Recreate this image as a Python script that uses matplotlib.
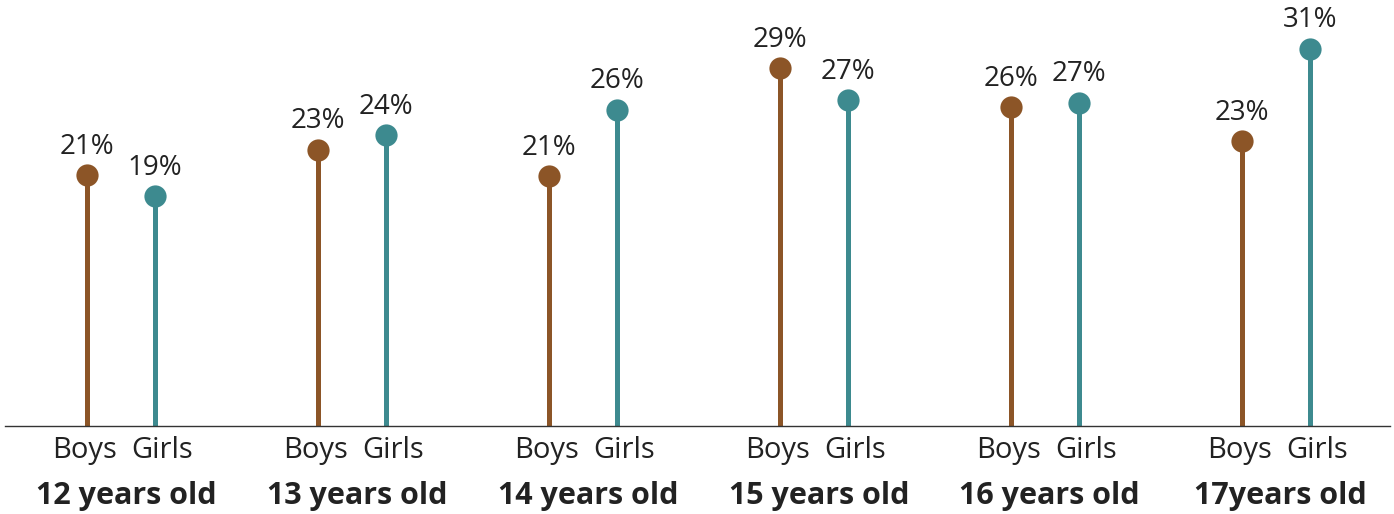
import matplotlib
matplotlib.use("Agg")
import matplotlib.pyplot as plt
import numpy as np

groups = ["12 years old", "13 years old", "14 years old", "15 years old", "16 years old", "17years old"]
boys = [20.6, 22.7, 20.55, 29.4, 26.2, 23.4]
girls = [18.9, 23.9, 26.0, 26.8, 26.6, 31.0]
sub_labels = ["Boys", "Girls"]

BROWN = "#8c5527"
TEAL = "#3d8a8f"
TXT = "#222222"
FONT = ["Open Sans", "DejaVu Sans"]

W, H = 1394, 514
fig = plt.figure(figsize=(W / 100, H / 100), dpi=100)
ax = fig.add_axes([5 / W, (H - 426) / H, 1385 / W, 426 / H])
ax.set_xlim(-0.502, 5.494)
ax.set_ylim(0, 35.03)

off = 0.147
x = np.arange(len(groups))
for xs, vals, col in [(x - off, boys, BROWN), (x + off, girls, TEAL)]:
    ax.vlines(xs, 0, vals, color=col, linewidth=3.6, zorder=2)
    ax.scatter(xs, vals, s=256, color=col, zorder=3, linewidths=0, marker="o")
    for xi, v in zip(xs, vals):
        ax.annotate(f"{v:.0f}%", (xi, v), xytext=(0, 15.5), textcoords="offset points",
                    ha="center", va="baseline", fontsize=20, color=TXT, family=FONT)

for s in ["top", "right", "left"]:
    ax.spines[s].set_visible(False)
ax.spines["bottom"].set_color("#333333")
ax.spines["bottom"].set_linewidth(1.0)
ax.set_xticks([])
ax.set_yticks([])

for i, g in enumerate(groups):
    ax.annotate(sub_labels[0], (i - off, 0), xytext=(-2, -23), textcoords="offset points",
                ha="center", va="baseline", fontsize=21, color=TXT, family=FONT,
                annotation_clip=False)
    ax.annotate(sub_labels[1], (i + off, 0), xytext=(5, -23), textcoords="offset points",
                ha="center", va="baseline", fontsize=21, color=TXT, family=FONT,
                annotation_clip=False)
    ax.annotate(g, (i, 0), xytext=(3.5, -56), textcoords="offset points",
                ha="center", va="baseline", fontsize=22, fontweight="bold", color=TXT,
                family=FONT, annotation_clip=False)

fig.savefig("out.png", dpi=100)
